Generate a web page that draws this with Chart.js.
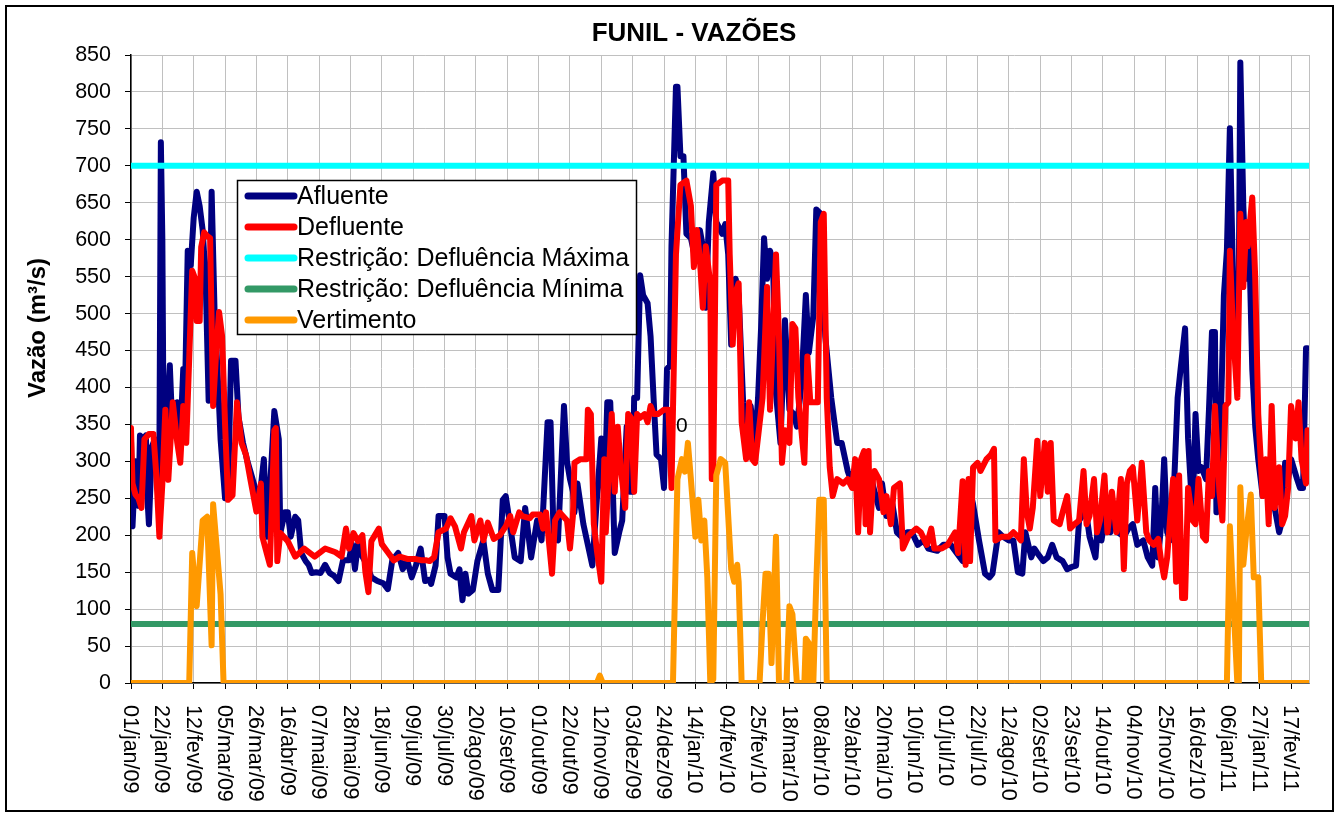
<!DOCTYPE html>
<html>
<head>
<meta charset="utf-8">
<title>FUNIL - VAZÕES</title>
<script src="https://cdn.jsdelivr.net/npm/chart.js@4.4.1/dist/chart.umd.min.js"></script>
<style>
  html, body { margin: 0; padding: 0; background: #fff; }
  canvas { display: block; }
</style>
</head>
<body>
<canvas id="vazoesChart" width="1338" height="814"></canvas>
<script>
// Vazões diárias da UHE Funil (m³/s). Eixo x em dias contados a partir de 01/jan/09.
const xTickLabels = [
    '01/jan/09', '22/jan/09', '12/fev/09', '05/mar/09', '26/mar/09', '16/abr/09', '07/mai/09',
    '28/mai/09', '18/jun/09', '09/jul/09', '30/jul/09', '20/ago/09', '10/set/09', '01/out/09',
    '22/out/09', '12/nov/09', '03/dez/09', '24/dez/09', '14/jan/10', '04/fev/10', '25/fev/10',
    '18/mar/10', '08/abr/10', '29/abr/10', '20/mai/10', '10/jun/10', '01/jul/10', '22/jul/10',
    '12/ago/10', '02/set/10', '23/set/10', '14/out/10', '04/nov/10', '25/nov/10', '16/dez/10',
    '06/jan/11', '27/jan/11', '17/fev/11'
];
const tickStepDays = 21;
const lastDay = 789;
const yTickValues = [0, 50, 100, 150, 200, 250, 300, 350, 400, 450, 500, 550, 600, 650, 700, 750, 800, 850];

// [dia, vazão]
const afluente = [
    [0,330],[1,212],[3,300],[5,240],[6,335],[8,330],[10,335],[11,250],[12,215],[14,320],[16,330],[17,300],
    [18,260],[19,300],[20,732],[21,600],[22,280],[24,360],[26,430],[27,380],[29,340],[31,380],[33,330],
    [35,425],[36,375],[38,585],[40,565],[42,630],[44,665],[46,645],[48,613],[50,547],[52,382],[54,665],
    [56,500],[58,420],[60,330],[63,250],[65,260],[67,436],[70,436],[72,360],[75,325],[78,300],[80,286],
    [83,265],[86,248],[89,303],[91,198],[93,260],[96,368],[99,330],
    [100,203],[103,231],[105,231],[107,198],[110,225],[112,220],[114,176],[117,165],[119,160],[121,149],
    [124,150],[127,149],[130,160],[133,149],[136,145],[139,138],[142,166],[146,166],[148,188],[150,154],
    [152,188],[155,171],[158,160],[161,143],[165,138],[169,135],[172,127],[175,166],[179,176],[182,154],
    [185,166],[188,143],[191,160],[194,182],[197,138],
    [200,140],[201,134],[204,159],[206,226],[210,226],[212,170],[214,148],[218,143],[220,154],[222,112],
    [224,148],[226,121],[229,126],[232,165],[236,193],[239,148],[242,126],[246,126],[249,248],[251,253],
    [253,226],[257,170],[261,165],[264,237],[268,170],[272,220],[275,193],[279,353],[281,353],[283,204],
    [286,193],[290,375],[292,300],[294,276],[296,259],
    [297,231],[299,270],[303,215],[306,187],[309,159],[312,248],[315,331],[317,248],[319,380],[321,380],
    [324,176],[327,204],[329,220],[332,347],[334,259],[336,259],[337,386],[339,386],[341,552],[343,525],
    [346,514],[348,469],[350,386],[352,309],[355,303],[357,264],[359,425],[361,430],[362,591],[365,807],
    [366,807],[368,713],[370,713],[372,608],[375,602],[378,574],[381,613],[383,591],[385,508],[387,624],
    [390,690],[392,624],[396,608],
    [398,621],[400,580],[402,458],[405,547],[407,525],[410,380],[413,347],[415,375],[418,325],[420,386],
    [422,480],[424,602],[426,547],[428,585],[430,569],[432,392],[435,325],[438,491],[441,370],[444,364],
    [446,347],[449,403],[452,525],[454,447],[457,497],[459,641],[462,635],[465,469],[469,386],[473,325],
    [476,325],[480,287],[483,270],[487,276],[492,298],
    [494,281],[496,276],[498,259],[501,237],[503,270],[506,226],[510,242],[513,204],[516,198],[520,204],
    [523,204],[527,187],[531,193],[534,182],[540,179],[544,187],[549,187],[553,176],[557,165],[561,270],
    [564,242],[568,193],[572,148],[575,143],[577,148],[581,204],[584,198],[588,193],[591,193],[594,150],
    [597,148],[599,204],[603,170],[605,182],[607,176],[611,165],[614,170],[617,187],[620,170],[624,165],
    [627,154],[630,157],[633,159],[635,220],[637,226],[639,242],[642,198],[646,170],[648,226],[650,193],
    [653,231],[656,204],[659,226],[661,204],[665,198],[668,209],[671,215],[674,187],[678,193],[681,170],
    [684,159],[686,264],[688,170],[690,215],[692,303],
    [694,204],[696,193],[698,237],[701,386],[703,425],[706,480],[708,331],[711,226],[713,364],[715,287],
    [717,292],[720,276],[722,370],[724,475],[726,475],[727,231],[730,364],[732,525],[734,585],[736,751],
    [738,558],[740,453],[742,547],[743,840],[745,646],[747,547],[749,591],[751,425],[753,347],[755,303],
    [758,253],[760,270],[762,248],[764,259],[767,226],[769,204],[771,220],[773,298],[775,276],[777,303],
    [781,276],[783,264],[785,264],[787,453],[788,453]
];

const defluente = [
    [0,345],[1,270],[3,255],[5,250],[7,237],[9,330],[12,337],[15,337],[17,280],[19,198],[21,270],[23,370],
    [25,275],[28,380],[31,325],[33,298],[35,375],[37,325],[39,440],[41,558],[43,547],[44,490],[46,490],
    [47,590],[49,610],[51,605],[53,602],[55,375],[57,447],[59,502],[61,470],[63,350],[65,248],[68,254],
    [71,380],[74,325],[77,309],[80,275],[84,232],[87,270],[88,198],[91,175],[93,160],[96,342],[97,345],
    [98,165],
    [100,203],[105,192],[110,171],[116,182],[123,171],[130,182],[137,177],[141,171],[144,209],[146,182],
    [149,203],[152,192],[155,200],[157,150],[159,123],[161,192],[166,209],[168,188],[172,177],[176,166],
    [180,171],[185,168],[190,168],[195,166],[198,166],
    [200,165],[203,170],[206,204],[211,209],[214,223],[217,212],[221,182],[223,204],[228,226],[230,193],
    [234,220],[236,193],[239,217],[243,195],[247,200],[251,212],[254,226],[256,204],[260,231],[262,226],
    [267,223],[269,228],[274,228],[276,209],[278,231],[282,148],[284,220],[287,231],[292,220],[294,182],
    [296,226],
    [297,298],[301,303],[305,303],[306,370],[308,364],[310,215],[312,180],[315,137],[317,303],[318,204],
    [322,364],[324,259],[326,347],[328,292],[331,237],[333,364],[335,359],[337,259],[339,364],[341,359],
    [344,364],[346,353],[348,375],[350,364],[353,364],[357,370],[360,370],[362,264],[365,580],[368,674],
    [372,680],[375,646],[377,563],[379,613],[381,574],[383,508],[385,591],[388,541],[389,276],[390,276],
    [392,674],[396,680],
    [400,680],[401,580],[403,458],[405,530],[407,541],[409,353],[412,303],[414,380],[416,303],[418,298],
    [423,386],[426,536],[428,370],[432,580],[434,469],[436,298],[438,342],[441,325],[443,486],[445,480],
    [447,386],[451,298],[453,442],[455,380],[458,380],[460,380],[462,624],[464,635],[466,386],[468,292],
    [470,253],[473,276],[477,270],[480,276],[483,264],[485,303],[487,204],[489,303],[491,314],[492,215],
    [494,314],[495,204],[497,276],[498,287],[501,276],[504,231],[506,253],[509,215],[511,264],[515,270],
    [517,182],[521,200],[526,209],[529,204],[533,187],[536,209],[538,182],[543,182],[547,187],[552,204],
    [554,176],[557,273],[559,160],[561,276],[562,165],[564,292],[567,298],[569,287],[573,303],[576,309],
    [578,317],[579,193],[583,198],[588,198],[591,204],[594,198],
    [596,193],[598,303],[600,231],[602,209],[604,237],[607,328],[609,253],[612,325],[614,259],[616,325],
    [618,220],[622,215],[624,231],[627,253],[629,209],[632,215],[635,220],[638,287],[640,215],[642,226],
    [645,276],[647,204],[649,220],[652,281],[654,204],[657,259],[660,204],[663,276],[665,154],[667,270],
    [669,287],[671,292],[674,220],[677,298],[680,204],[682,193],[685,187],[688,195],[690,165],[692,143],
    [694,170],[698,276],[700,137],[702,281],[704,115],[706,115],[708,264],[711,220],[713,215],[715,276],
    [718,198],[720,193],[722,287],[724,253],[726,375],[729,259],[731,220],[733,375],[735,380],[736,585],
    [738,480],[741,386],[743,635],[745,536],[747,624],[748,591],[751,657],[753,547],[755,364],[758,253],
    [760,303],[762,215],[764,375],[766,237],[769,292],[771,215],[773,226],[775,264],[777,375],[780,331],
    [782,380],[784,303],[787,270],[788,342]
];

const vertimento = [
    [0,0],[39,0],[41,176],[44,104],[48,220],[51,225],[54,51],[55,242],[60,120],[62,0],
    [312,0],[314,10],[316,0],
    [363,0],[366,276],[369,303],[371,286],[373,325],[375,276],[378,198],[380,248],[382,193],[384,220],
    [386,143],[388,0],[390,5],[392,281],[395,303],[398,298],[402,154],[404,137],[406,160],[407,137],[409,0],
    [421,0],[423,82],[425,148],[427,148],[429,27],[432,198],[434,0],
    [439,0],[441,104],[443,93],[446,0],[451,0],[452,60],[454,54],[455,0],[457,0],[459,137],[461,248],
    [464,248],[466,0],
    [734,0],[736,212],[739,82],[741,0],[742,0],[743,265],[745,160],[747,204],[750,255],[752,143],[755,143],
    [757,0],[789,0]
];

const defluenciaMaxima = 700;
const defluenciaMinima = 80;

const seriesNames = ['Afluente', 'Defluente', 'Restrição: Defluência Máxima', 'Restrição: Defluência Mínima', 'Vertimento'];
const seriesColors = ['#000080', '#ff0000', '#00ffff', '#339966', '#ff9900'];

// rótulo de dado solto que aparece no gráfico original: [dia, vazão, texto]
const rotuloSolto = [369, 348, '0'];

const FONT = '"Liberation Sans", Arial, sans-serif';

function toPoints(pairs) {
    return pairs.map(p => ({ x: p[0], y: p[1] }));
}

const seriesData = [
    toPoints(afluente),
    toPoints(defluente),
    toPoints([[0, defluenciaMaxima], [lastDay, defluenciaMaxima]]),
    toPoints([[0, defluenciaMinima], [lastDay, defluenciaMinima]]),
    toPoints(vertimento)
];

// fundo, moldura externa e borda direita da área de plotagem
const moldura = {
    id: 'moldura',
    beforeDraw(chart) {
        const ctx = chart.ctx;
        ctx.save();
        ctx.fillStyle = '#fff';
        ctx.fillRect(0, 0, chart.width, chart.height);
        ctx.strokeStyle = '#000';
        ctx.lineWidth = 2;
        ctx.strokeRect(6, 6, 1327, 805);
        ctx.restore();
    },
    beforeDatasetsDraw(chart) {
        const { ctx, chartArea } = chart;
        ctx.save();
        ctx.strokeStyle = '#c0c0c0';
        ctx.lineWidth = 1;
        ctx.beginPath();
        ctx.moveTo(Math.round(chartArea.right) + 0.5, chartArea.top);
        ctx.lineTo(Math.round(chartArea.right) + 0.5, chartArea.bottom);
        ctx.stroke();
        ctx.restore();
    }
};

// títulos, rótulos do eixo x (girados), legenda e rótulo solto
const textos = {
    id: 'textos',
    afterDatasetsDraw(chart) {
        const ctx = chart.ctx;
        const xs = chart.scales.x, ys = chart.scales.y;
        ctx.save();
        ctx.font = '21px ' + FONT;
        ctx.fillStyle = '#000';
        ctx.textAlign = 'center';
        ctx.textBaseline = 'middle';
        ctx.fillText(rotuloSolto[2], xs.getPixelForValue(rotuloSolto[0]), ys.getPixelForValue(rotuloSolto[1]));
        ctx.restore();
    },
    afterDraw(chart) {
        const ctx = chart.ctx;
        const area = chart.chartArea;
        const xs = chart.scales.x;

        ctx.save();
        ctx.fillStyle = '#000';

        // título
        ctx.font = 'bold 26px ' + FONT;
        ctx.textAlign = 'center';
        ctx.textBaseline = 'middle';
        ctx.fillText('FUNIL - VAZÕES', 694, 34);

        // título do eixo y
        ctx.save();
        ctx.translate(38, 328);
        ctx.rotate(-Math.PI / 2);
        ctx.font = 'bold 24px ' + FONT;
        ctx.fillText('Vazão (m³/s)', 0, 0);
        ctx.restore();

        // datas do eixo x, lidas de cima para baixo
        ctx.font = '21.5px ' + FONT;
        ctx.textAlign = 'left';
        ctx.textBaseline = 'middle';
        xs.ticks.forEach((t, i) => {
            const px = xs.getPixelForValue(t.value);
            ctx.save();
            ctx.translate(px - 1, area.bottom + 22);
            ctx.rotate(Math.PI / 2);
            ctx.fillText(xTickLabels[i], 0, 0);
            ctx.restore();
        });

        // legenda
        const lx = 237, ly = 180, lw = 399, lh = 154;
        ctx.fillStyle = '#fff';
        ctx.fillRect(lx, ly, lw, lh);
        ctx.strokeStyle = '#000';
        ctx.lineWidth = 1.5;
        ctx.strokeRect(lx + 0.5, ly + 0.5, lw, lh);
        ctx.font = '25px ' + FONT;
        ctx.textAlign = 'left';
        ctx.textBaseline = 'middle';
        chart.data.datasets.forEach((ds, i) => {
            const cy = ly + 16 + i * 31;
            ctx.strokeStyle = ds.borderColor;
            ctx.lineWidth = 7;
            ctx.lineCap = 'round';
            ctx.beginPath();
            ctx.moveTo(lx + 11, cy);
            ctx.lineTo(lx + 57, cy);
            ctx.stroke();
            ctx.fillStyle = '#000';
            ctx.fillText(ds.label, lx + 60, cy + 1);
        });

        ctx.restore();
    }
};

const datasets = seriesNames.map((name, i) => ({
    label: name,
    data: seriesData[i],
    borderColor: seriesColors[i],
    backgroundColor: seriesColors[i],
    borderWidth: 6,
    pointRadius: 0,
    pointHoverRadius: 0,
    tension: 0,
    fill: false,
    borderJoinStyle: 'round',
    borderCapStyle: 'round',
    order: seriesNames.length - i   // séries posteriores por cima, como no Excel
}));

const ctx = document.getElementById('vazoesChart').getContext('2d');
new Chart(ctx, {
    type: 'line',
    data: { datasets: datasets },
    options: {
        responsive: false,
        animation: false,
        devicePixelRatio: 1,
        events: [],
        layout: { padding: { left: 8, right: 29, top: 55, bottom: 8 } },
        plugins: {
            legend: { display: false },
            title: { display: false },
            tooltip: { enabled: false }
        },
        scales: {
            x: {
                type: 'linear',
                min: 0,
                max: lastDay,
                afterBuildTicks: scale => {
                    scale.ticks = xTickLabels.map((_, i) => ({ value: i * tickStepDays }));
                },
                afterFit: scale => { scale.height = 123; },
                ticks: { display: false },
                grid: { color: '#c0c0c0', lineWidth: 1, tickColor: '#000', tickLength: 6, drawTicks: true },
                border: { color: '#000', width: 1.5 }
            },
            y: {
                type: 'linear',
                min: 0,
                max: 850,
                afterBuildTicks: scale => {
                    scale.ticks = yTickValues.map(v => ({ value: v }));
                },
                afterFit: scale => { scale.width = 123; },
                ticks: {
                    color: '#000',
                    padding: 14,
                    font: { family: FONT, size: 21.5 }
                },
                grid: { color: '#c0c0c0', lineWidth: 1, tickColor: '#000', tickLength: 6 },
                border: { color: '#000', width: 1.5 }
            }
        }
    },
    plugins: [moldura, textos]
});
</script>
</body>
</html>
